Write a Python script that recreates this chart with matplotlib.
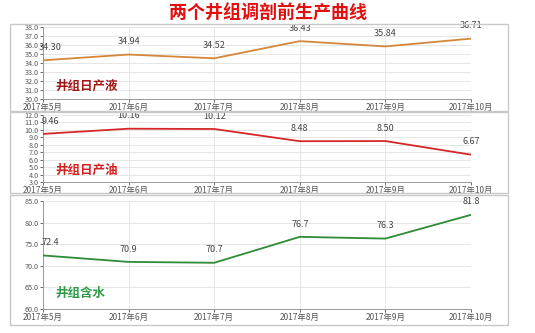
import matplotlib.pyplot as plt
from matplotlib.patches import Rectangle

plt.rcParams['font.family'] = ['Noto Sans CJK SC', 'DejaVu Sans']

# data
months = ['2017年5月', '2017年6月', '2017年7月', '2017年8月', '2017年9月', '2017年10月']
liquid = [34.30, 34.94, 34.52, 36.43, 35.84, 36.71]
oil = [9.46, 10.16, 10.12, 8.48, 8.50, 6.67]
water = [72.4, 70.9, 70.7, 76.7, 76.3, 81.8]

W, H = 535, 333
fig = plt.figure(figsize=(W / 100, H / 100), dpi=100)


def px_axes(left, top, right, bottom):
    return fig.add_axes([left / W, 1 - bottom / H, (right - left) / W, (bottom - top) / H])


def panel_box(top, bottom):
    fig.patches.append(Rectangle((10 / W, 1 - bottom / H), 498 / W, (bottom - top) / H,
                                 transform=fig.transFigure, fill=False,
                                 edgecolor='#c8c8c8', linewidth=1.0))


panels = [
    (liquid, (27, 99), (24, 111), (30, 38, 1), '#d4873a', '井组日产液', '#a01818', '{:.2f}'),
    (oil, (115, 182), (112, 193), (3, 12, 1), '#d42828', '井组日产油', '#d42020', '{:.2f}'),
    (water, (201, 309), (195, 325), (60, 85, 5), '#2e8b36', '井组含水', '#2e9a4a', '{:.1f}'),
]

x = list(range(len(months)))
for vals, (top, bottom), (btop, bbot), (ymin, ymax, step), color, name, ncolor, fmt in panels:
    panel_box(btop, bbot)
    ax = px_axes(43, top, 471, bottom)
    ax.plot(x, vals, color=color, linewidth=1.3, zorder=3)
    for xi, v in zip(x, vals):
        dx = 5 if xi == 0 else 0
        ax.annotate(fmt.format(v), (xi, v), xytext=(dx, 6), textcoords='offset points',
                    ha='center', va='bottom', fontsize=6.5, color='#444444')
    ax.set_xlim(0, len(months) - 1)
    ax.set_ylim(ymin, ymax)
    ticks = list(range(ymin, ymax + 1, step))
    ax.set_yticks(ticks)
    ax.set_yticklabels([f'{t:.1f}' for t in ticks])
    ax.set_xticks(x)
    ax.set_xticklabels(months)
    ax.tick_params(axis='both', colors='#555555', length=2, width=0.6, pad=1)
    ax.tick_params(axis='x', labelsize=6)
    ax.tick_params(axis='y', labelsize=5.2)
    ax.grid(True, color='#e2e2e2', linewidth=0.6)
    ax.set_axisbelow(True)
    for s in ['top', 'right']:
        ax.spines[s].set_visible(False)
    for s in ['left', 'bottom']:
        ax.spines[s].set_color('#999999')
        ax.spines[s].set_linewidth(0.7)
    ax.text(0.03, 0.08, name, transform=ax.transAxes, fontsize=9, fontweight='bold',
            color=ncolor, ha='left', va='bottom')

fig.text(268 / W, 1 - 13 / H, '两个井组调剖前生产曲线', ha='center', va='center',
         fontsize=13, fontweight='bold', color='#e01010')

fig.savefig('out.png', dpi=100)
